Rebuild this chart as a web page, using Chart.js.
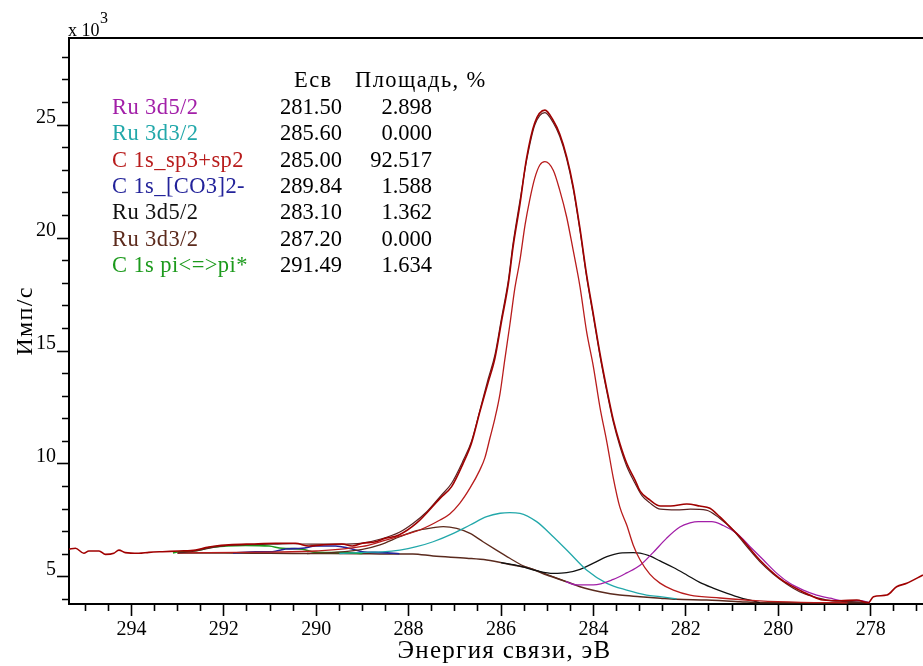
<!DOCTYPE html>
<html><head><meta charset="utf-8">
<script src="https://cdn.jsdelivr.net/npm/chart.js@4.4.1/dist/chart.umd.min.js"></script>
<style>
html,body{margin:0;padding:0;background:#fff;overflow:hidden;width:923px;height:666px;}
#wrap{position:absolute;left:0;top:0;width:940px;height:666px;}
</style></head><body>
<div id="wrap"><canvas id="c" width="940" height="666"></canvas></div>
<script>
// ---- data (binding energy, eV ; intensity, x10^3 counts/s) ----
const rawBE = [295.35,295.21,295.03,294.92,294.70,294.56,294.38,294.27,294.13,293.84,293.62,293.33,292.97,292.61,292.39,292.18,291.89,291.39,290.88,290.45,290.16,289.87,289.44,289.22,289.00,288.71,288.50,288.21,287.83,287.32,287.07,286.82,286.64,286.46,286.28,286.13,285.99,285.84,285.74,285.59,285.45,285.27,285.05,284.87,284.73,284.58,284.44,284.29,284.15,284.00,283.86,283.71,283.57,283.43,283.28,283.10,282.99,282.78,282.55,282.33,281.98,281.70,281.48,281.27,281.05,280.83,280.62,280.40,280.18,279.97,279.75,279.54,279.32,279.03,278.67,278.30,278.05,277.94,277.65,277.44,277.22,276.87];
const rawCps = [6.23,6.27,6.05,6.15,6.15,6.00,6.05,6.19,6.08,6.05,6.09,6.12,6.15,6.19,6.30,6.37,6.42,6.46,6.49,6.49,6.37,6.42,6.46,6.37,6.49,6.56,6.71,6.86,7.38,8.48,9.00,10.03,10.92,12.3,13.6,14.7,16.3,18.0,19.6,21.5,23.5,25.1,25.66,25.2,24.6,23.6,22.3,20.4,18.4,16.6,14.9,13.3,11.95,10.92,10.03,9.29,8.8,8.41,8.14,8.14,8.23,8.14,8.04,7.67,7.23,6.78,6.27,5.75,5.31,4.94,4.65,4.42,4.20,3.98,3.95,3.98,3.86,4.13,4.20,4.57,4.72,5.09];

const envBE = [293.0,292.6,292.2,291.9,291.5,291.0,290.5,290.0,289.5,289.0,288.6,288.2,287.9,287.6,287.3,287.07,286.82,286.64,286.46,286.28,286.13,285.99,285.84,285.74,285.59,285.45,285.27,285.05,284.87,284.73,284.58,284.44,284.29,284.15,284.00,283.86,283.71,283.57,283.43,283.28,283.10,282.95,282.78,282.55,282.20,281.90,281.56,281.27,280.98,280.68,280.40,280.11,279.82,279.54,279.24,278.95,278.60,278.30,278.05];
const envCps = [6.06,6.15,6.32,6.40,6.43,6.45,6.47,6.45,6.45,6.50,6.68,6.98,7.38,7.90,8.60,9.15,10.15,11.0,12.35,13.75,14.85,16.45,18.15,19.75,21.65,23.4,25.0,25.55,25.1,24.5,23.5,22.2,20.3,18.3,16.5,14.8,13.2,11.85,10.8,9.9,9.15,8.6,8.28,8.0,7.97,8.0,7.96,7.6,7.08,6.34,5.68,5.13,4.69,4.35,4.13,3.98,3.92,3.90,3.88];

const bgBE = [293.0,292.0,291.0,290.0,289.0,288.62,287.91,287.47,286.74,286.31,285.74,285.37,285.01,284.58,284.29,283.86,283.43,282.99,282.55,282.20,281.55,280.83,280.40,279.5,278.5,278.05];
const bgCps = [6.06,6.06,6.05,6.04,6.03,6.02,6.02,5.93,5.83,5.75,5.53,5.38,5.09,4.79,4.57,4.35,4.20,4.13,4.06,4.01,3.98,3.91,3.86,3.86,3.86,3.86];

const c1sBE = [293.0,291.0,290.0,289.0,288.62,288.19,287.76,287.32,287.11,286.89,286.67,286.46,286.35,286.24,286.13,286.02,285.92,285.81,285.70,285.59,285.48,285.38,285.27,285.16,285.05,284.87,284.73,284.58,284.44,284.29,284.15,284.00,283.86,283.71,283.57,283.43,283.28,283.14,282.99,282.78,282.56,282.27,281.91,281.26,280.40,279.5,278.5];
const c1sCps = [6.07,6.1,6.15,6.35,6.55,6.81,7.08,7.52,7.79,8.27,8.94,9.73,10.27,11.15,12.04,13.14,14.6,16.15,17.79,19.03,20.58,21.68,22.65,23.23,23.38,23.0,22.12,20.93,19.47,17.83,15.88,14.29,12.52,10.97,9.38,8.10,7.30,6.42,5.75,5.13,4.73,4.42,4.20,4.07,3.94,3.88,3.86];

const ru52aBE = [284.6,284.36,284.0,283.57,283.28,282.99,282.71,282.42,282.13,281.91,281.73,281.44,281.19,280.90,280.61,280.32,280.03,279.75,279.46,279.17,278.88,278.59,278.23,278.02];
const ru52aCps = [4.79,4.65,4.65,4.89,5.18,5.52,6.08,6.71,7.21,7.39,7.45,7.45,7.28,6.93,6.34,5.75,5.16,4.72,4.42,4.20,4.06,3.95,3.95,3.86];

const ru32aBE = [289.5,288.93,288.57,288.19,287.83,287.47,287.03,286.67,286.31,286.02,285.81,285.59,285.23,284.87,284.51,284.15,283.71,283.28,282.85,282.56,282.2];
const ru32aCps = [6.04,6.09,6.11,6.19,6.34,6.56,6.93,7.30,7.67,7.82,7.85,7.82,7.45,6.78,6.05,5.31,4.72,4.42,4.20,4.13,4.03];

const ru52bBE = [286.0,285.59,285.23,284.87,284.58,284.29,284.00,283.71,283.43,283.14,282.99,282.78,282.56,282.27,281.98,281.70,281.41,281.12,280.83,280.54,280.40];
const ru52bCps = [5.64,5.48,5.28,5.16,5.19,5.34,5.61,5.90,6.06,6.08,6.06,5.93,5.71,5.42,5.09,4.76,4.51,4.29,4.09,3.94,3.86];

const ru32bBE = [290.2,289.6,289.0,288.62,288.19,287.83,287.47,287.25,286.96,286.67,286.39,286.10,285.81,285.52,285.30,285.0,284.6];
const ru32bCps = [6.04,6.09,6.22,6.42,6.78,7.05,7.18,7.23,7.15,6.93,6.56,6.19,5.83,5.49,5.34,5.11,4.80];

const co3BE = [291.8,291.31,290.95,290.66,290.30,290.01,289.58,289.29,289.0,288.57,288.2];
const co3Cps = [6.06,6.12,6.12,6.24,6.27,6.37,6.37,6.27,6.12,6.08,6.03];

const piBE = [293.1,292.97,292.61,292.32,291.96,291.53,291.02,290.74,290.30,290.01,289.36,289.0];
const piCps = [6.06,6.12,6.16,6.30,6.37,6.40,6.37,6.27,6.23,6.09,6.08,6.04];

// ---- peak table ----
const tableHeader = ['Есв', 'Площадь, %'];
const compNames = ['Ru 3d5/2','Ru 3d3/2','C 1s_sp3+sp2','C 1s_[CO3]2-','Ru 3d5/2','Ru 3d3/2','C 1s pi<=>pi*'];
const compBE = ['281.50','285.60','285.00','289.84','283.10','287.20','291.49'];
const compArea = ['2.898','0.000','92.517','1.588','1.362','0.000','1.634'];

// ---- ticks ----
const xTickValues = [295,294.5,294,293.5,293,292.5,292,291.5,291,290.5,290,289.5,289,288.5,288,287.5,287,286.5,286,285.5,285,284.5,284,283.5,283,282.5,282,281.5,281,280.5,280,279.5,279,278.5,278,277.5,277];
const xLabelValues = [294,292,290,288,286,284,282,280,278];
const yTickValues = [4,5,6,7,8,9,10,11,12,13,14,15,16,17,18,19,20,21,22,23,24,25,26,27,28];
const yLabelValues = [5,10,15,20,25];

// ---- styles ----
const FONT = '"Liberation Serif", "Times New Roman", serif';
const compColors = ['#a21fa8','#22a8aa','#b81c1c','#23239a','#111111','#5c2a1c','#1c9a1c'];
const X_MIN = 276.5, X_MAX = 295.35, Y_MIN = 3.805, Y_MAX = 28.85;

function pts(xs, ys){ return xs.map((x,i)=>({x:x, y:ys[i]})); }
function ds(label, xs, ys, color, w){
  return {label:label, data:pts(xs,ys), borderColor:color, backgroundColor:color, borderWidth:w,
    pointRadius:0, fill:false, cubicInterpolationMode:'monotone'};
}

const tablePlugin = {
  id:'peakTable',
  afterLayout(chart){
    ['x','y'].forEach(function(id){
      const s = chart.scales[id];
      if (s && !s._spaced) {
        const orig = s.drawTitle.bind(s);
        s.drawTitle = function(){ const c = this.ctx; c.save(); c.letterSpacing = '1.3px'; orig(); c.restore(); };
        s._spaced = true;
      }
    });
  },
  afterDraw(chart){
    const ctx = chart.ctx;
    ctx.save();
    ctx.textBaseline = 'alphabetic';
    ctx.fillStyle = '#000';
    ctx.textAlign = 'left';
    ctx.font = '18px ' + FONT;
    ctx.fillText('x 10', 68, 36);
    ctx.font = '16px ' + FONT;
    ctx.fillText('3', 100, 23);
    ctx.font = '22.5px ' + FONT;
    ctx.letterSpacing = '1.4px';
    ctx.fillText(tableHeader[0], 294, 87);
    ctx.fillText(tableHeader[1], 355, 87);
    for (let i = 0; i < compNames.length; i++) {
      const y = 114 + i * 26.3;
      ctx.textAlign = 'left';
      ctx.letterSpacing = '0.4px';
      ctx.fillStyle = compColors[i];
      ctx.fillText(compNames[i], 112, y);
      ctx.letterSpacing = '0px';
      ctx.fillStyle = '#000';
      ctx.fillText(compBE[i], 280, y);
      ctx.textAlign = 'right';
      ctx.fillText(compArea[i], 432, y);
    }
    ctx.restore();
  }
};

new Chart(document.getElementById('c'), {
  type:'line',
  data:{ datasets:[
    ds('Измерение', rawBE, rawCps, '#a00000', 1.6),
    ds('Огибающая', envBE, envCps, '#5a2222', 1.2),
    ds(compNames[2], c1sBE, c1sCps, compColors[2], 1.3),
    ds(compNames[0], ru52aBE, ru52aCps, compColors[0], 1.3),
    ds(compNames[1], ru32aBE, ru32aCps, compColors[1], 1.3),
    ds(compNames[4], ru52bBE, ru52bCps, compColors[4], 1.3),
    ds(compNames[5], ru32bBE, ru32bCps, compColors[5], 1.3),
    ds(compNames[3], co3BE, co3Cps, compColors[3], 1.6),
    ds(compNames[6], piBE, piCps, compColors[6], 1.6),
    ds('Фон', bgBE, bgCps, '#5a2a1e', 1.5)
  ]},
  options:{
    responsive:false, animation:false, devicePixelRatio:1,
    layout:{ padding:{ top:38, left:0, right:0, bottom:0 } },
    plugins:{ legend:{display:false}, tooltip:{enabled:false} },
    scales:{
      x:{
        type:'linear', position:'bottom', reverse:true, min:X_MIN, max:X_MAX,
        afterBuildTicks:(s)=>{ s.ticks = xTickValues.map(v=>({value:v})); },
        afterFit:(s)=>{ s.height = 62; },
        ticks:{ autoSkip:false, maxRotation:0, padding:2, color:'#000', font:{family:FONT, size:20},
          callback:(v)=> xLabelValues.includes(v) ? String(v) : '' },
        grid:{ drawOnChartArea:false, tickLength:12, tickColor:'#000', tickWidth:1.6,
          tickBorderDash:(c)=> (c.tick && xLabelValues.includes(c.tick.value)) ? [] : [6,40] },
        border:{ display:true, color:'#000', width:2 },
        title:{ display:true, text:'Энергия связи, эВ', color:'#000', font:{family:FONT, size:25, lineHeight:1.2}, padding:{top:0,bottom:0} }
      },
      x2:{
        type:'linear', position:'top', reverse:true, min:X_MIN, max:X_MAX,
        ticks:{display:false}, grid:{drawOnChartArea:false, drawTicks:false},
        border:{ display:true, color:'#000', width:2 },
        afterFit:(s)=>{ s.height = 0; }
      },
      y:{
        type:'linear', position:'left', min:Y_MIN, max:Y_MAX,
        afterBuildTicks:(s)=>{ s.ticks = yTickValues.map(v=>({value:v})); },
        afterFit:(s)=>{ s.width = 69; },
        ticks:{ autoSkip:false, padding:1, labelOffset:-7, color:'#000', font:{family:FONT, size:20},
          callback:(v)=> yLabelValues.includes(v) ? String(v) : '' },
        grid:{ drawOnChartArea:false, tickLength:12, tickColor:'#000', tickWidth:1.6,
          tickBorderDash:(c)=> (c.tick && yLabelValues.includes(c.tick.value)) ? [] : [0,5,6,40] },
        border:{ display:true, color:'#000', width:2 },
        title:{ display:true, text:'Имп/с', color:'#000', font:{family:FONT, size:24, lineHeight:1.2}, padding:{top:11,bottom:0} }
      }
    }
  },
  plugins:[tablePlugin]
});
</script>
</body></html>
